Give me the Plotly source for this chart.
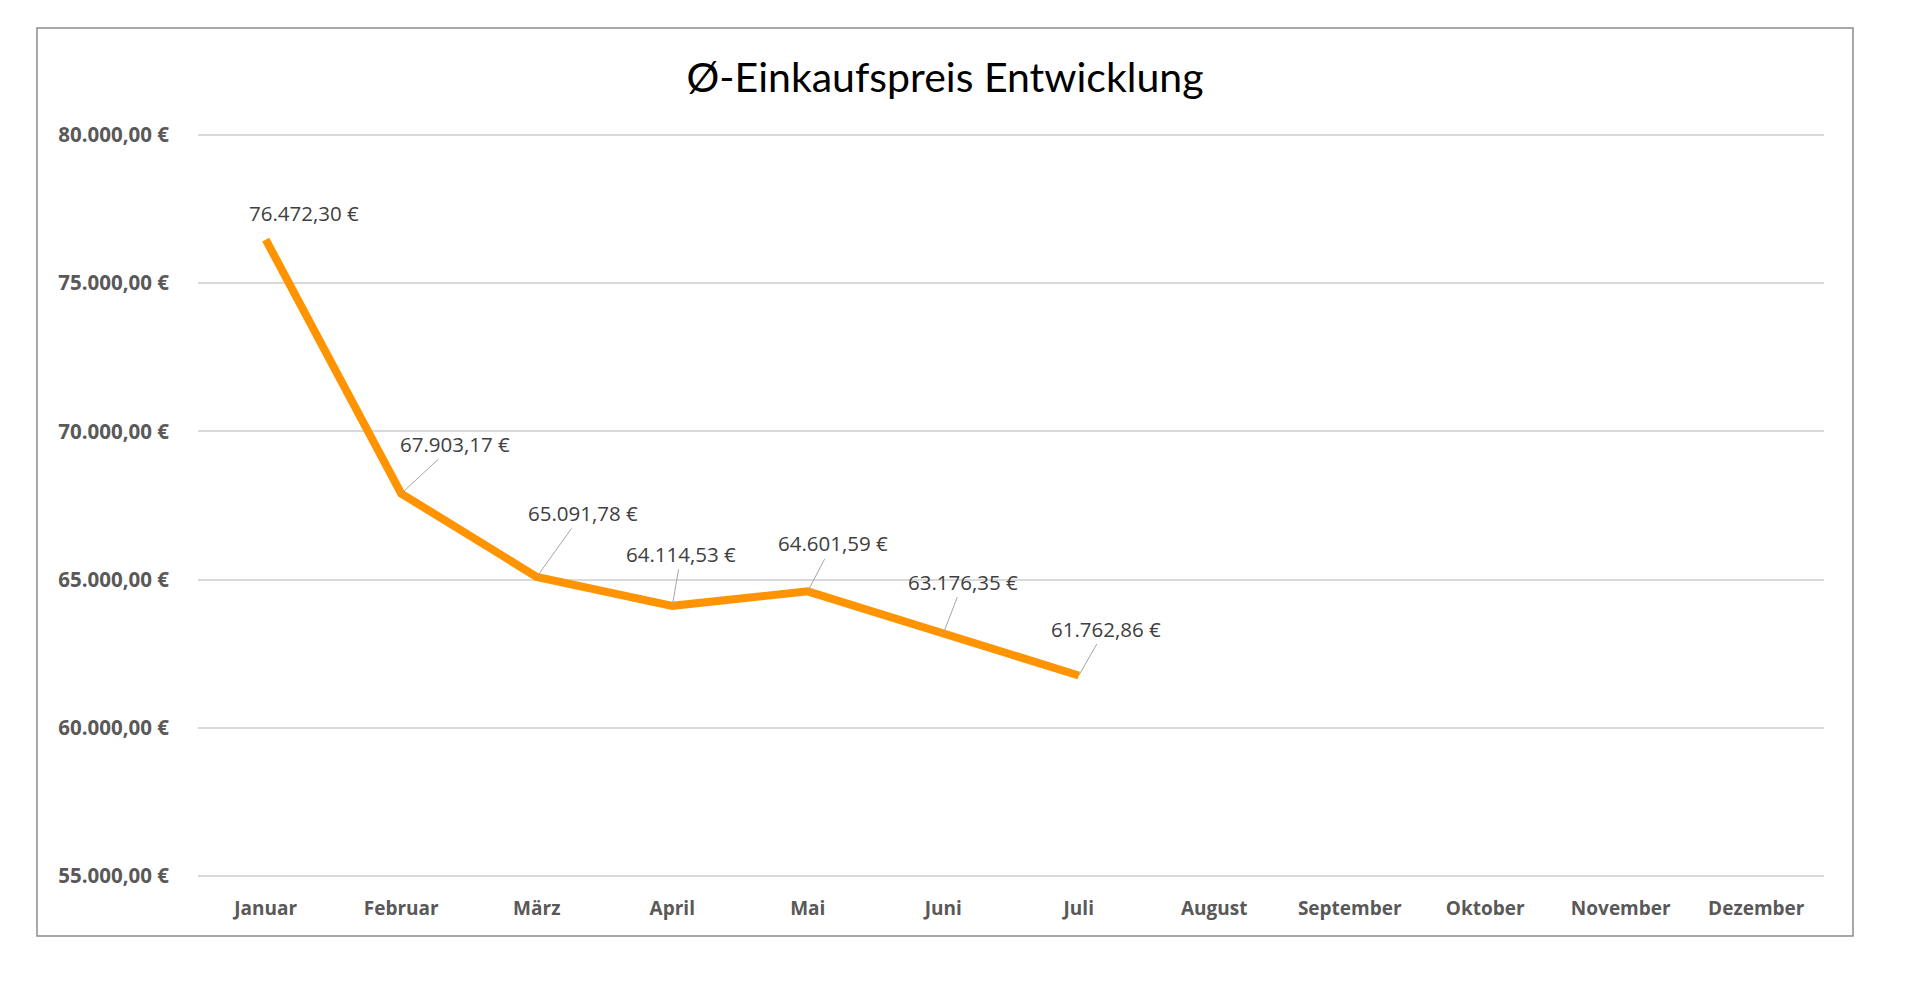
import plotly.graph_objects as go

# Monate + Ø-Einkaufspreis (nur Jan-Jul vorhanden)
months = ["Januar", "Februar", "März", "April", "Mai", "Juni", "Juli",
          "August", "September", "Oktober", "November", "Dezember"]
avg_price = [76472.30, 67903.17, 65091.78, 64114.53, 64601.59, 63176.35, 61762.86]
y_ticks = [55000, 60000, 65000, 70000, 75000, 80000]

# label offsets in px (dx, dy) relative to the point
label_offsets = [(38, -27), (54, -50), (46, -64), (9, -52), (25, -48), (20, -52), (27, -47)]


def euro(v):
    s = f"{v:,.2f}".replace(",", "X").replace(".", ",").replace("X", ".")
    return s + " €"


fig = go.Figure()
fig.add_trace(go.Scatter(
    x=months[:len(avg_price)], y=avg_price,
    mode="lines",
    line=dict(color="#FF9300", width=8),
    hoverinfo="skip",
    showlegend=False,
))

annotations = []
for i, v in enumerate(avg_price):
    dx, dy = label_offsets[i]
    a = dict(x=months[i], y=v, xref="x", yref="y", text=euro(v),
             font=dict(family="Open Sans", size=20.5, color="#404040"))
    if i == 0:
        a.update(showarrow=False, xshift=dx, yshift=-dy)
    else:
        a.update(showarrow=True, arrowhead=0, arrowwidth=1, arrowcolor="#a6a6a6",
                 ax=dx, ay=dy, standoff=0)
    annotations.append(a)

# chart frame (Excel-style border) in paper coords
L, R, T, B = 198, 96, 133, 119
pw, ph = 1920 - L - R, 997 - T - B
fig.add_shape(type="rect", xref="paper", yref="paper",
              x0=(37 - L) / pw, x1=(1853 - L) / pw,
              y0=(997 - B - 936) / ph, y1=(997 - B - 28) / ph,
              line=dict(color="#8c8c8c", width=1.5), layer="below")

fig.update_layout(
    width=1920, height=997,
    margin=dict(l=L, r=R, t=T, b=B),
    paper_bgcolor="white", plot_bgcolor="white",
    title=dict(text="Ø-Einkaufspreis Entwicklung", x=945 / 1920, xanchor="center",
               y=1 - 78 / 997, yanchor="middle", xref="container", yref="container",
               font=dict(family="Lato", size=41, color="#000000")),
    annotations=annotations,
    xaxis=dict(categoryorder="array", categoryarray=months, range=[-0.5, 11.5],
               showgrid=False, showline=False, zeroline=False, ticks="",
               tickfont=dict(family="Open Sans", size=19, color="#595959", weight="bold"),
               ticklabelstandoff=17),
    # small padding so the 55.000 / 80.000 gridlines at the edges are drawn
    yaxis=dict(range=[54930, 80070], tickvals=y_ticks, ticktext=[euro(t) for t in y_ticks],
               showgrid=True, gridcolor="#d9d9d9", gridwidth=1.5,
               showline=False, zeroline=False, ticks="",
               tickfont=dict(family="Open Sans", size=20.5, color="#595959", weight="bold"),
               ticklabelstandoff=28),
)

fig.write_html("out.html", config={"displayModeBar": False},
               post_script="document.body.style.margin='0';")
